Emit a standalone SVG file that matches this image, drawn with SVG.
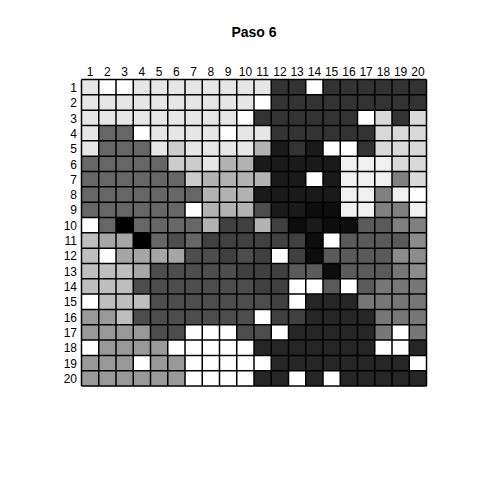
<svg xmlns="http://www.w3.org/2000/svg" width="480" height="480" viewBox="0 0 480 480">
<style>
text{font-family:"Liberation Sans",Arial,sans-serif;fill:#000}
.title{font-size:14px;font-weight:bold;text-anchor:middle}
.cl{font-size:12px;text-anchor:middle}
.rl{font-size:12px;text-anchor:end}
.cells rect{width:17.25px;height:15.33px;stroke:none}
.w{fill:#FFFFFF}.e{fill:#E6E6E6}.f{fill:#F0F0F0}.d{fill:#D9D9D9}.c{fill:#CCCCCC}
.b{fill:#B3B3B3}.r{fill:#BEBEBE}.a{fill:#A6A6A6}.n{fill:#999999}.h{fill:#8C8C8C}
.s{fill:#808080}.t{fill:#777777}.g6{fill:#666666}.g5{fill:#5A5A5A}.g4{fill:#4D4D4D}
.l{fill:#404040}.g3{fill:#333333}.g2{fill:#262626}.g1{fill:#1A1A1A}.g0{fill:#0D0D0D}.k{fill:#000000}
.grid{fill:none;stroke:#000;stroke-width:1.5}
</style>
<rect width="480" height="480" fill="#fff"/>
<text class="title" x="254" y="37">Paso 6</text>
<g id="col-labels">
<text class="cl" x="90.1" y="76">1</text><text class="cl" x="107.4" y="76">2</text><text class="cl" x="124.6" y="76">3</text><text class="cl" x="141.9" y="76">4</text><text class="cl" x="159.1" y="76">5</text><text class="cl" x="176.4" y="76">6</text><text class="cl" x="193.6" y="76">7</text><text class="cl" x="210.9" y="76">8</text><text class="cl" x="228.1" y="76">9</text><text class="cl" x="245.4" y="76">10</text><text class="cl" x="262.6" y="76">11</text><text class="cl" x="279.9" y="76">12</text><text class="cl" x="297.1" y="76">13</text><text class="cl" x="314.4" y="76">14</text><text class="cl" x="331.6" y="76">15</text><text class="cl" x="348.9" y="76">16</text><text class="cl" x="366.1" y="76">17</text><text class="cl" x="383.4" y="76">18</text><text class="cl" x="400.6" y="76">19</text><text class="cl" x="417.9" y="76">20</text>
</g>
<g id="row-labels">
<text class="rl" x="77" y="91.8">1</text><text class="rl" x="77" y="107.1">2</text><text class="rl" x="77" y="122.5">3</text><text class="rl" x="77" y="137.8">4</text><text class="rl" x="77" y="153.1">5</text><text class="rl" x="77" y="168.5">6</text><text class="rl" x="77" y="183.8">7</text><text class="rl" x="77" y="199.1">8</text><text class="rl" x="77" y="214.4">9</text><text class="rl" x="77" y="229.8">10</text><text class="rl" x="77" y="245.1">11</text><text class="rl" x="77" y="260.4">12</text><text class="rl" x="77" y="275.8">13</text><text class="rl" x="77" y="291.1">14</text><text class="rl" x="77" y="306.4">15</text><text class="rl" x="77" y="321.8">16</text><text class="rl" x="77" y="337.1">17</text><text class="rl" x="77" y="352.4">18</text><text class="rl" x="77" y="367.7">19</text><text class="rl" x="77" y="383.1">20</text>
</g>
<g class="cells" id="cells">
<g transform="translate(0,79.5)"><rect x="81.5" class="e"/><rect x="98.75" class="w"/><rect x="116" class="w"/><rect x="133.25" class="e"/><rect x="150.5" class="e"/><rect x="167.75" class="e"/><rect x="185" class="e"/><rect x="202.25" class="e"/><rect x="219.5" class="e"/><rect x="236.75" class="e"/><rect x="254" class="e"/><rect x="271.25" class="g3"/><rect x="288.5" class="g3"/><rect x="305.75" class="w"/><rect x="323" class="g3"/><rect x="340.25" class="g3"/><rect x="357.5" class="g3"/><rect x="374.75" class="g3"/><rect x="392" class="g3"/><rect x="409.25" class="g3"/></g>
<g transform="translate(0,94.83)"><rect x="81.5" class="e"/><rect x="98.75" class="e"/><rect x="116" class="e"/><rect x="133.25" class="e"/><rect x="150.5" class="e"/><rect x="167.75" class="e"/><rect x="185" class="e"/><rect x="202.25" class="e"/><rect x="219.5" class="e"/><rect x="236.75" class="e"/><rect x="254" class="w"/><rect x="271.25" class="g3"/><rect x="288.5" class="g3"/><rect x="305.75" class="g3"/><rect x="323" class="g3"/><rect x="340.25" class="g3"/><rect x="357.5" class="g3"/><rect x="374.75" class="g3"/><rect x="392" class="g3"/><rect x="409.25" class="g3"/></g>
<g transform="translate(0,110.16)"><rect x="81.5" class="e"/><rect x="98.75" class="e"/><rect x="116" class="e"/><rect x="133.25" class="e"/><rect x="150.5" class="e"/><rect x="167.75" class="e"/><rect x="185" class="e"/><rect x="202.25" class="e"/><rect x="219.5" class="e"/><rect x="236.75" class="w"/><rect x="254" class="g3"/><rect x="271.25" class="g3"/><rect x="288.5" class="g3"/><rect x="305.75" class="g3"/><rect x="323" class="g3"/><rect x="340.25" class="g3"/><rect x="357.5" class="w"/><rect x="374.75" class="d"/><rect x="392" class="g3"/><rect x="409.25" class="d"/></g>
<g transform="translate(0,125.49)"><rect x="81.5" class="e"/><rect x="98.75" class="g6"/><rect x="116" class="g6"/><rect x="133.25" class="w"/><rect x="150.5" class="e"/><rect x="167.75" class="e"/><rect x="185" class="e"/><rect x="202.25" class="e"/><rect x="219.5" class="w"/><rect x="236.75" class="e"/><rect x="254" class="e"/><rect x="271.25" class="g3"/><rect x="288.5" class="g3"/><rect x="305.75" class="g3"/><rect x="323" class="g3"/><rect x="340.25" class="g3"/><rect x="357.5" class="g3"/><rect x="374.75" class="d"/><rect x="392" class="d"/><rect x="409.25" class="d"/></g>
<g transform="translate(0,140.82)"><rect x="81.5" class="e"/><rect x="98.75" class="g6"/><rect x="116" class="g6"/><rect x="133.25" class="g6"/><rect x="150.5" class="e"/><rect x="167.75" class="c"/><rect x="185" class="e"/><rect x="202.25" class="e"/><rect x="219.5" class="e"/><rect x="236.75" class="e"/><rect x="254" class="b"/><rect x="271.25" class="g1"/><rect x="288.5" class="g3"/><rect x="305.75" class="g1"/><rect x="323" class="w"/><rect x="340.25" class="w"/><rect x="357.5" class="g3"/><rect x="374.75" class="d"/><rect x="392" class="d"/><rect x="409.25" class="d"/></g>
<g transform="translate(0,156.15)"><rect x="81.5" class="g6"/><rect x="98.75" class="g6"/><rect x="116" class="g6"/><rect x="133.25" class="g6"/><rect x="150.5" class="g6"/><rect x="167.75" class="c"/><rect x="185" class="c"/><rect x="202.25" class="e"/><rect x="219.5" class="b"/><rect x="236.75" class="b"/><rect x="254" class="g1"/><rect x="271.25" class="g1"/><rect x="288.5" class="g1"/><rect x="305.75" class="g1"/><rect x="323" class="g1"/><rect x="340.25" class="f"/><rect x="357.5" class="f"/><rect x="374.75" class="f"/><rect x="392" class="d"/><rect x="409.25" class="d"/></g>
<g transform="translate(0,171.48)"><rect x="81.5" class="g6"/><rect x="98.75" class="g6"/><rect x="116" class="g6"/><rect x="133.25" class="g6"/><rect x="150.5" class="g6"/><rect x="167.75" class="g6"/><rect x="185" class="c"/><rect x="202.25" class="b"/><rect x="219.5" class="b"/><rect x="236.75" class="b"/><rect x="254" class="b"/><rect x="271.25" class="g1"/><rect x="288.5" class="g1"/><rect x="305.75" class="w"/><rect x="323" class="g1"/><rect x="340.25" class="f"/><rect x="357.5" class="f"/><rect x="374.75" class="f"/><rect x="392" class="s"/><rect x="409.25" class="d"/></g>
<g transform="translate(0,186.81)"><rect x="81.5" class="g6"/><rect x="98.75" class="g6"/><rect x="116" class="g6"/><rect x="133.25" class="g6"/><rect x="150.5" class="g6"/><rect x="167.75" class="g6"/><rect x="185" class="g6"/><rect x="202.25" class="b"/><rect x="219.5" class="b"/><rect x="236.75" class="b"/><rect x="254" class="g1"/><rect x="271.25" class="g1"/><rect x="288.5" class="g1"/><rect x="305.75" class="g1"/><rect x="323" class="g1"/><rect x="340.25" class="f"/><rect x="357.5" class="f"/><rect x="374.75" class="s"/><rect x="392" class="f"/><rect x="409.25" class="w"/></g>
<g transform="translate(0,202.14)"><rect x="81.5" class="g6"/><rect x="98.75" class="g6"/><rect x="116" class="g6"/><rect x="133.25" class="g6"/><rect x="150.5" class="g6"/><rect x="167.75" class="g6"/><rect x="185" class="w"/><rect x="202.25" class="b"/><rect x="219.5" class="b"/><rect x="236.75" class="b"/><rect x="254" class="g4"/><rect x="271.25" class="g1"/><rect x="288.5" class="g1"/><rect x="305.75" class="g0"/><rect x="323" class="g0"/><rect x="340.25" class="f"/><rect x="357.5" class="f"/><rect x="374.75" class="s"/><rect x="392" class="s"/><rect x="409.25" class="f"/></g>
<g transform="translate(0,217.47)"><rect x="81.5" class="w"/><rect x="98.75" class="g6"/><rect x="116" class="k"/><rect x="133.25" class="g6"/><rect x="150.5" class="g6"/><rect x="167.75" class="g6"/><rect x="185" class="g6"/><rect x="202.25" class="b"/><rect x="219.5" class="l"/><rect x="236.75" class="l"/><rect x="254" class="b"/><rect x="271.25" class="l"/><rect x="288.5" class="g0"/><rect x="305.75" class="g1"/><rect x="323" class="g0"/><rect x="340.25" class="g0"/><rect x="357.5" class="g5"/><rect x="374.75" class="g5"/><rect x="392" class="s"/><rect x="409.25" class="s"/></g>
<g transform="translate(0,232.8)"><rect x="81.5" class="r"/><rect x="98.75" class="a"/><rect x="116" class="a"/><rect x="133.25" class="k"/><rect x="150.5" class="g6"/><rect x="167.75" class="g4"/><rect x="185" class="g6"/><rect x="202.25" class="l"/><rect x="219.5" class="l"/><rect x="236.75" class="l"/><rect x="254" class="l"/><rect x="271.25" class="l"/><rect x="288.5" class="l"/><rect x="305.75" class="g0"/><rect x="323" class="w"/><rect x="340.25" class="g5"/><rect x="357.5" class="g5"/><rect x="374.75" class="g5"/><rect x="392" class="g5"/><rect x="409.25" class="h"/></g>
<g transform="translate(0,248.13)"><rect x="81.5" class="r"/><rect x="98.75" class="w"/><rect x="116" class="a"/><rect x="133.25" class="a"/><rect x="150.5" class="a"/><rect x="167.75" class="a"/><rect x="185" class="g4"/><rect x="202.25" class="g4"/><rect x="219.5" class="l"/><rect x="236.75" class="g4"/><rect x="254" class="l"/><rect x="271.25" class="w"/><rect x="288.5" class="l"/><rect x="305.75" class="g0"/><rect x="323" class="g5"/><rect x="340.25" class="g5"/><rect x="357.5" class="g5"/><rect x="374.75" class="g5"/><rect x="392" class="h"/><rect x="409.25" class="h"/></g>
<g transform="translate(0,263.46)"><rect x="81.5" class="r"/><rect x="98.75" class="r"/><rect x="116" class="r"/><rect x="133.25" class="a"/><rect x="150.5" class="g4"/><rect x="167.75" class="g4"/><rect x="185" class="g4"/><rect x="202.25" class="g4"/><rect x="219.5" class="g4"/><rect x="236.75" class="l"/><rect x="254" class="l"/><rect x="271.25" class="l"/><rect x="288.5" class="g5"/><rect x="305.75" class="g5"/><rect x="323" class="g0"/><rect x="340.25" class="g5"/><rect x="357.5" class="g5"/><rect x="374.75" class="g5"/><rect x="392" class="t"/><rect x="409.25" class="h"/></g>
<g transform="translate(0,278.79)"><rect x="81.5" class="r"/><rect x="98.75" class="r"/><rect x="116" class="r"/><rect x="133.25" class="g4"/><rect x="150.5" class="g4"/><rect x="167.75" class="g4"/><rect x="185" class="g4"/><rect x="202.25" class="g4"/><rect x="219.5" class="g4"/><rect x="236.75" class="g4"/><rect x="254" class="l"/><rect x="271.25" class="l"/><rect x="288.5" class="w"/><rect x="305.75" class="w"/><rect x="323" class="g5"/><rect x="340.25" class="w"/><rect x="357.5" class="g5"/><rect x="374.75" class="t"/><rect x="392" class="t"/><rect x="409.25" class="t"/></g>
<g transform="translate(0,294.12)"><rect x="81.5" class="w"/><rect x="98.75" class="r"/><rect x="116" class="r"/><rect x="133.25" class="r"/><rect x="150.5" class="g4"/><rect x="167.75" class="g4"/><rect x="185" class="g4"/><rect x="202.25" class="g4"/><rect x="219.5" class="g4"/><rect x="236.75" class="g4"/><rect x="254" class="g4"/><rect x="271.25" class="l"/><rect x="288.5" class="w"/><rect x="305.75" class="g2"/><rect x="323" class="g2"/><rect x="340.25" class="g2"/><rect x="357.5" class="t"/><rect x="374.75" class="t"/><rect x="392" class="t"/><rect x="409.25" class="t"/></g>
<g transform="translate(0,309.45)"><rect x="81.5" class="n"/><rect x="98.75" class="n"/><rect x="116" class="r"/><rect x="133.25" class="g4"/><rect x="150.5" class="g4"/><rect x="167.75" class="g4"/><rect x="185" class="g4"/><rect x="202.25" class="g4"/><rect x="219.5" class="g4"/><rect x="236.75" class="g4"/><rect x="254" class="w"/><rect x="271.25" class="l"/><rect x="288.5" class="l"/><rect x="305.75" class="g2"/><rect x="323" class="g2"/><rect x="340.25" class="g2"/><rect x="357.5" class="g2"/><rect x="374.75" class="t"/><rect x="392" class="t"/><rect x="409.25" class="t"/></g>
<g transform="translate(0,324.78)"><rect x="81.5" class="n"/><rect x="98.75" class="n"/><rect x="116" class="n"/><rect x="133.25" class="n"/><rect x="150.5" class="g4"/><rect x="167.75" class="g4"/><rect x="185" class="w"/><rect x="202.25" class="w"/><rect x="219.5" class="w"/><rect x="236.75" class="g4"/><rect x="254" class="g4"/><rect x="271.25" class="w"/><rect x="288.5" class="g2"/><rect x="305.75" class="g2"/><rect x="323" class="g2"/><rect x="340.25" class="g2"/><rect x="357.5" class="g2"/><rect x="374.75" class="t"/><rect x="392" class="w"/><rect x="409.25" class="t"/></g>
<g transform="translate(0,340.11)"><rect x="81.5" class="w"/><rect x="98.75" class="n"/><rect x="116" class="n"/><rect x="133.25" class="n"/><rect x="150.5" class="n"/><rect x="167.75" class="w"/><rect x="185" class="w"/><rect x="202.25" class="w"/><rect x="219.5" class="w"/><rect x="236.75" class="w"/><rect x="254" class="g2"/><rect x="271.25" class="g2"/><rect x="288.5" class="g2"/><rect x="305.75" class="g2"/><rect x="323" class="g2"/><rect x="340.25" class="g2"/><rect x="357.5" class="g2"/><rect x="374.75" class="w"/><rect x="392" class="w"/><rect x="409.25" class="g2"/></g>
<g transform="translate(0,355.44)"><rect x="81.5" class="n"/><rect x="98.75" class="n"/><rect x="116" class="n"/><rect x="133.25" class="w"/><rect x="150.5" class="n"/><rect x="167.75" class="n"/><rect x="185" class="w"/><rect x="202.25" class="w"/><rect x="219.5" class="w"/><rect x="236.75" class="w"/><rect x="254" class="w"/><rect x="271.25" class="g2"/><rect x="288.5" class="g2"/><rect x="305.75" class="g2"/><rect x="323" class="g2"/><rect x="340.25" class="g2"/><rect x="357.5" class="g2"/><rect x="374.75" class="g2"/><rect x="392" class="g2"/><rect x="409.25" class="w"/></g>
<g transform="translate(0,370.77)"><rect x="81.5" class="n"/><rect x="98.75" class="n"/><rect x="116" class="n"/><rect x="133.25" class="n"/><rect x="150.5" class="n"/><rect x="167.75" class="n"/><rect x="185" class="w"/><rect x="202.25" class="w"/><rect x="219.5" class="w"/><rect x="236.75" class="w"/><rect x="254" class="g2"/><rect x="271.25" class="g2"/><rect x="288.5" class="w"/><rect x="305.75" class="g2"/><rect x="323" class="w"/><rect x="340.25" class="g2"/><rect x="357.5" class="g2"/><rect x="374.75" class="g2"/><rect x="392" class="g2"/><rect x="409.25" class="g2"/></g>
</g>
<path class="grid" id="grid" d="M81.5 79.5V386.1M98.75 79.5V386.1M116 79.5V386.1M133.25 79.5V386.1M150.5 79.5V386.1M167.75 79.5V386.1M185 79.5V386.1M202.25 79.5V386.1M219.5 79.5V386.1M236.75 79.5V386.1M254 79.5V386.1M271.25 79.5V386.1M288.5 79.5V386.1M305.75 79.5V386.1M323 79.5V386.1M340.25 79.5V386.1M357.5 79.5V386.1M374.75 79.5V386.1M392 79.5V386.1M409.25 79.5V386.1M426.5 79.5V386.1M81.5 79.5H426.5M81.5 94.83H426.5M81.5 110.16H426.5M81.5 125.49H426.5M81.5 140.82H426.5M81.5 156.15H426.5M81.5 171.48H426.5M81.5 186.81H426.5M81.5 202.14H426.5M81.5 217.47H426.5M81.5 232.8H426.5M81.5 248.13H426.5M81.5 263.46H426.5M81.5 278.79H426.5M81.5 294.12H426.5M81.5 309.45H426.5M81.5 324.78H426.5M81.5 340.11H426.5M81.5 355.44H426.5M81.5 370.77H426.5M81.5 386.1H426.5"/>
</svg>
